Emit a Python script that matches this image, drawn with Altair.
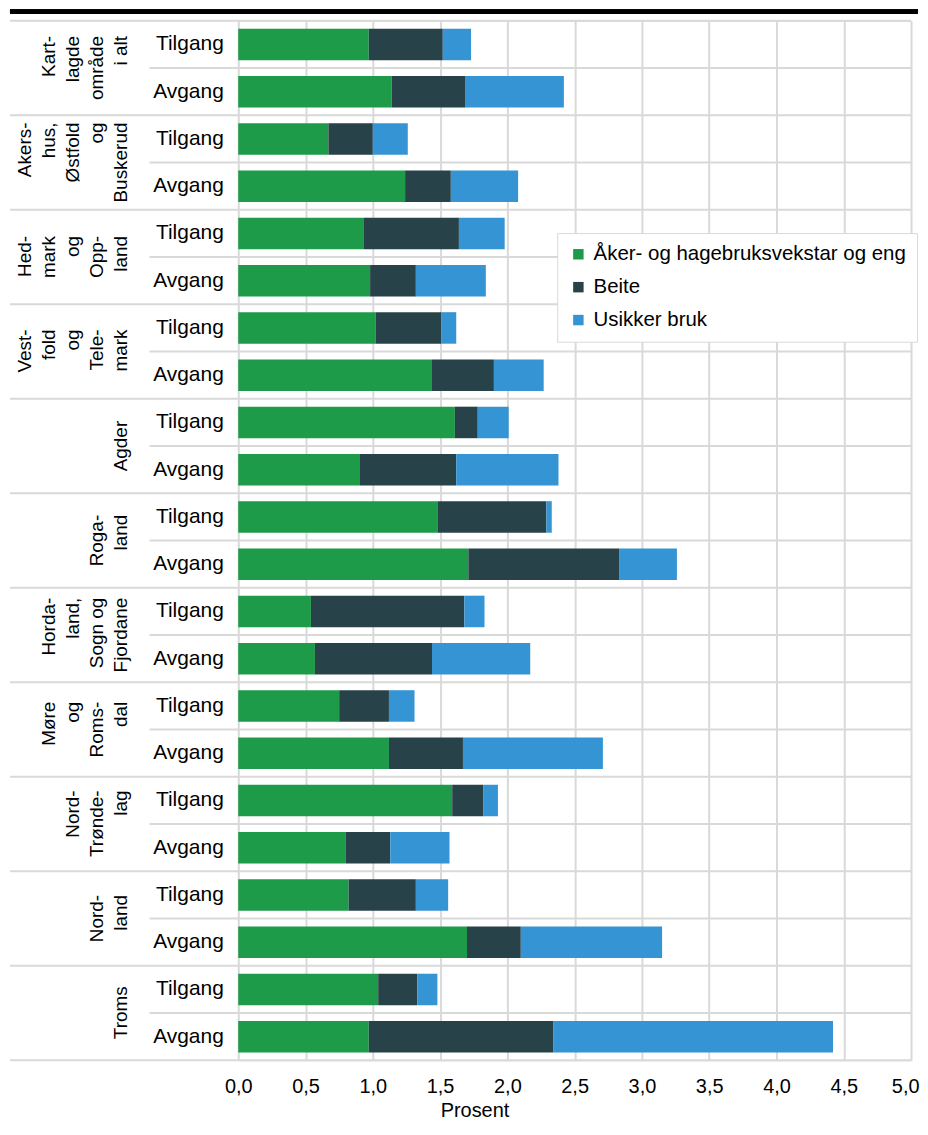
import altair as alt
import pandas as pd

# ---------------- data ----------------
regions = ["Kartlagde område i alt", "Akershus, Østfold og Buskerud", "Hedmark og Oppland",
           "Vestfold og Telemark", "Agder", "Rogaland", "Hordaland, Sogn og Fjordane",
           "Møre og Romsdal", "Nord-Trøndelag", "Nordland", "Troms"]
region_labels = ["Kart-\nlagde\nområde\ni alt", "Akers-\nhus,\nØstfold\nog\nBuskerud",
                 "Hed-\nmark\nog\nOpp-\nland", "Vest-\nfold\nog\nTele-\nmark", "Agder",
                 "Roga-\nland", "Horda-\nland,\nSogn og\nFjordane", "Møre\nog\nRoms-\ndal",
                 "Nord-\nTrønde-\nlag", "Nord-\nland", "Troms"]
flows = ["Tilgang", "Avgang"]
categories = ["Åker- og hagebruksvekstar og eng", "Beite", "Usikker bruk"]
colors = ["#1d9b48", "#284249", "#3594d3"]

aker_tilgang = [0.97, 0.67, 0.93, 1.02, 1.61, 1.48, 0.54, 0.75, 1.59, 0.82, 1.04]
beite_tilgang = [0.55, 0.33, 0.71, 0.49, 0.17, 0.81, 1.14, 0.37, 0.23, 0.50, 0.29]
usikker_tilgang = [0.21, 0.26, 0.34, 0.11, 0.23, 0.04, 0.15, 0.19, 0.11, 0.24, 0.15]
aker_avgang = [1.14, 1.24, 0.98, 1.44, 0.90, 1.71, 0.57, 1.12, 0.80, 1.70, 0.97]
beite_avgang = [0.55, 0.34, 0.34, 0.46, 0.72, 1.12, 0.87, 0.55, 0.33, 0.40, 1.37]
usikker_avgang = [0.73, 0.50, 0.52, 0.37, 0.76, 0.43, 0.73, 1.04, 0.44, 1.05, 2.08]

x_ticks = [0, 0.5, 1, 1.5, 2, 2.5, 3, 3.5, 4, 4.5, 5]

# ---------------- tables ----------------
FONT = "Liberation Sans"
REGION_FS = 19
LINE_H = 24
W, H = 675, 1043
GRID = "#d9d9d9"

def key(i, flow):
    return f"{i:02d}|{flow}"

row_keys = [key(i, f) for i in range(len(regions)) for f in flows]

series = {
    ("Tilgang", 0): aker_tilgang, ("Tilgang", 1): beite_tilgang, ("Tilgang", 2): usikker_tilgang,
    ("Avgang", 0): aker_avgang, ("Avgang", 1): beite_avgang, ("Avgang", 2): usikker_avgang,
}
rows = []
for i in range(len(regions)):
    for f in flows:
        for c in range(3):
            rows.append({"key": key(i, f), "category": categories[c], "ord": c,
                         "value": series[(f, c)][i]})
bars_df = pd.DataFrame(rows)

# approximate Arial advance widths (em/1000) for placing the rotated labels
CW = {" ": 278, ",": 278, "-": 333, "A": 667, "B": 667, "F": 611, "H": 722, "K": 667,
      "M": 833, "N": 722, "O": 778, "R": 722, "S": 667, "T": 611, "V": 667, "Ø": 778,
      "a": 556, "b": 556, "d": 556, "e": 556, "f": 278, "g": 556, "h": 556, "i": 222,
      "j": 222, "k": 500, "l": 222, "m": 833, "n": 556, "o": 556, "p": 556, "r": 333,
      "s": 500, "t": 278, "u": 556, "v": 500, "å": 556, "ø": 611, "y": 500}

def text_w(s):
    return sum(CW.get(ch, 556) for ch in s) / 1000 * REGION_FS

lab_df = pd.DataFrame({
    "key": [key(i, "Avgang") for i in range(len(regions))],
    "label": region_labels,
    "off": [-max(text_w(l) for l in lab.split("\n")) / 2 for lab in region_labels],
    "lx": [-108 - (len(lab.split("\n")) - 1) * LINE_H for lab in region_labels],
})
top_df = pd.DataFrame({"key": [key(i, "Tilgang") for i in range(len(regions))]})
sub_df = pd.DataFrame({"key": [key(i, "Avgang") for i in range(len(regions))]})
bot_df = pd.DataFrame({"key": [row_keys[-1]]})

yscale = alt.Scale(domain=row_keys, paddingInner=0, paddingOuter=0)
yaxis = alt.Axis(title=None, labelExpr="split(datum.label,'|')[1]", ticks=False,
                 domain=False, grid=False, labelFontSize=21, labelPadding=15,
                 labelColor="black")

last_tick = "datum.value >= 5"
bars = alt.Chart(bars_df).mark_bar(height=alt.RelativeBandSize(0.667)).encode(
    y=alt.Y("key:N", scale=yscale, sort=row_keys, axis=yaxis),
    x=alt.X("value:Q", stack="zero", scale=alt.Scale(domain=[0, 5], nice=False),
            axis=alt.Axis(values=x_ticks, labelExpr="replace(format(datum.value,'.1f'),'.',',')",
                          labelFlush=False,
                          labelAlign={"condition": {"test": last_tick, "value": "right"},
                                      "value": "center"},
                          labelOffset={"condition": {"test": last_tick, "value": 8},
                                       "value": 0},
                          grid=True, gridColor=GRID, gridWidth=2, ticks=False, domain=False,
                          labelFontSize=20, labelPadding=16, labelColor="black",
                          title="Prosent", titleFontSize=20, titleFontWeight="normal",
                          titleColor="black", titleX=237, titleY=50, titleBaseline="middle",
                          titleAlign="center", titleAnchor="start")),
    color=alt.Color("category:N", scale=alt.Scale(domain=categories, range=colors),
                    legend=alt.Legend(title=None, orient="none", legendX=320, legendY=213,
                                      direction="vertical", symbolType="square",
                                      symbolSize=110, symbolStrokeWidth=0, labelFontSize=20.5,
                                      labelLimit=500, rowPadding=12, padding=11,
                                      strokeColor=GRID, fillColor="white", labelOffset=5,
                                      labelColor="black")),
    order=alt.Order("ord:Q", sort="ascending"),
)

def hrule(df, x0, band):
    return alt.Chart(df).mark_rule(color=GRID, strokeWidth=2).encode(
        y=alt.Y("key:N", scale=yscale, sort=row_keys, axis=yaxis, bandPosition=band),
        x=alt.value(x0), x2=alt.value(W),
    )

top_rules = hrule(top_df, -229, 0)
sub_rules = hrule(sub_df, -89, 0)
bot_rule = hrule(bot_df, -229, 1)

labels = alt.Chart(lab_df).mark_text(angle=270, align="right", baseline="bottom",
                                     lineBreak="\n", lineHeight=LINE_H, fontSize=REGION_FS,
                                     color="black").encode(
    y=alt.Y("key:N", scale=yscale, sort=row_keys, axis=yaxis, bandPosition=0),
    yOffset=alt.YOffset("off:Q", scale=None),
    x=alt.X("lx:Q", scale=None, axis=None),
    text="label:N",
)

black_line = alt.Chart(top_df).mark_rule(color="black", strokeWidth=4).encode(
    x=alt.value(-229), x2=alt.value(682), y=alt.value(-9)
)

chart = alt.layer(top_rules, sub_rules, bot_rule, bars, labels, black_line).properties(
    width=W, height=H, padding=0
).configure_view(stroke=None).configure(font=FONT)

chart.save("out.html", embed_options={"renderer": "svg", "actions": False})
